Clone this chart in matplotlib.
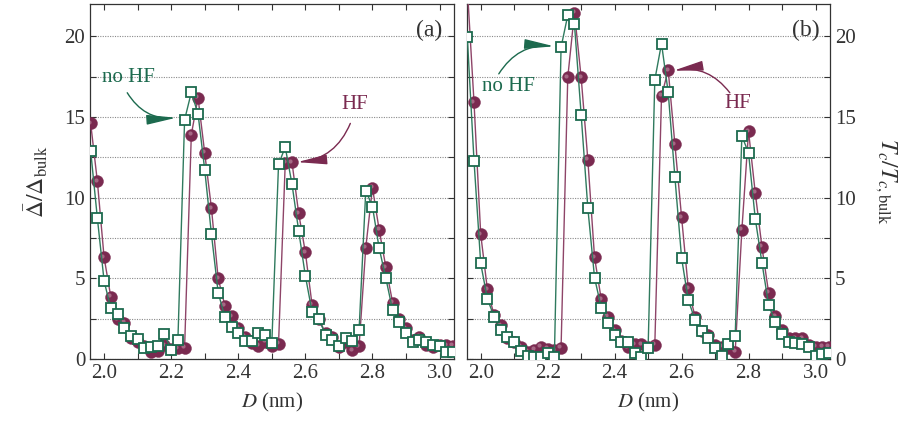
import matplotlib
matplotlib.use("Agg")
import matplotlib.pyplot as plt
from matplotlib.transforms import offset_copy

# ---------------- data ----------------
D = [1.96, 1.98, 2.00, 2.02, 2.04, 2.06, 2.08, 2.10, 2.12, 2.14, 2.16, 2.18, 2.20, 2.22, 2.24,
     2.26, 2.28, 2.30, 2.32, 2.34, 2.36, 2.38, 2.40, 2.42, 2.44, 2.46, 2.48, 2.50, 2.52,
     2.54, 2.56, 2.58, 2.60, 2.62, 2.64, 2.66, 2.68, 2.70, 2.72, 2.74, 2.76,
     2.78, 2.80, 2.82, 2.84, 2.86, 2.88, 2.90, 2.92, 2.94, 2.96, 2.98, 3.00, 3.02, 3.04]

gap_HF = [14.6, 11.0, 6.3, 3.85, 2.45, 2.25, 1.33, 1.06, 0.78, 0.44, 0.5, 0.85, 0.6, 0.65, 0.7,
          13.9, 16.2, 12.76, 9.34, 5.0, 3.3, 2.65, 1.95, 1.37, 1.0, 0.82, 1.05, 0.8, 0.95,
          12.15, 12.2, 9.03, 6.6, 3.35, 2.5, 1.6, 1.37, 0.75, 1.06, 0.54, 0.78,
          6.9, 10.6, 8.0, 5.68, 3.5, 2.45, 1.89, 1.2, 1.37, 0.85, 0.75, 0.85, 0.85, 0.8]

gap_noHF = [12.9, 8.72, 4.84, 3.13, 2.76, 1.95, 1.4, 1.25, 0.65, 0.75, 0.8, 1.53, 0.58, 1.16,
            14.83, 16.52, 15.2, 11.72, 7.73, 4.12, 2.61, 1.99, 1.64, 1.12, 1.12, 1.64, 1.51, 1.0,
            12.07, 13.13, 10.85, 7.95, 5.14, 2.92, 2.47, 1.51, 1.16, 0.81, 1.33, 1.12, 1.78,
            10.43, 9.44, 6.86, 4.99, 3.02, 2.3, 1.62, 1.03, 1.2, 1.06, 0.85, 0.83, 0.44, 0.44]

tc_HF = [23.0, 15.9, 7.73, 4.31, 2.71, 2.09, 1.3, 1.06, 0.75, 0.45, 0.58, 0.75, 0.62, 0.55, 0.68,
         17.45, 21.45, 17.45, 12.34, 6.3, 3.7, 2.61, 1.78, 1.12, 0.73, 0.9, 0.92, 0.72, 0.87,
         16.3, 17.9, 13.3, 8.78, 4.37, 2.63, 1.76, 1.47, 0.85, 0.75, 0.65, 0.43,
         8.0, 14.1, 10.3, 6.94, 4.1, 2.64, 1.78, 1.27, 1.27, 1.27, 0.85, 0.75, 0.75, 0.75]

tc_noHF = [19.94, 12.28, 5.92, 3.72, 2.63, 1.78, 1.39, 1.04, 0.52, 0.2, 0.12, 0.1, 0.38, 0.1,
           19.32, 21.3, 20.73, 15.14, 9.34, 5.03, 3.19, 2.24, 1.47, 1.06, 1.06, 0.37, 0.15, 0.68,
           17.3, 19.55, 16.52, 11.27, 6.25, 3.65, 2.43, 1.76, 1.33, 0.71, 0.17, 0.91, 1.41,
           13.83, 12.76, 8.7, 5.96, 3.34, 2.27, 1.55, 1.04, 1.0, 0.93, 0.73, 0.2, 0.28, 0.38]

xticks = [2.0, 2.2, 2.4, 2.6, 2.8, 3.0]
xticklabels = ["2.0", "2.2", "2.4", "2.6", "2.8", "3.0"]
yticks = [0, 5, 10, 15, 20]
yticklabels = ["0", "5", "10", "15", "20"]

# ---------------- style ----------------
plt.rcParams['font.family'] = ['Liberation Serif', 'DejaVu Serif']
plt.rcParams['mathtext.fontset'] = 'stix'

MAROON = '#7a2a50'
MAROON_L = '#8e4468'
HILITE = '#b07892'
GREEN = '#1c6a4e'
GREEN_L = '#2f7a5e'
TXT = '#333333'

fig = plt.figure(figsize=(9.10, 4.21), dpi=100)
axA = fig.add_axes([0.0989, 0.1473, 0.4000, 0.8432])
axB = fig.add_axes([0.5128, 0.1473, 0.3992, 0.8432])


def draw(ax, yhf, ynohf):
    ax.plot(D, yhf, '-', color=MAROON_L, lw=1.0, zorder=3)
    ax.plot(D, yhf, 'o', color=MAROON, ms=8.6, mec=MAROON, mew=0.3, zorder=4,
            linestyle='none')
    hl = offset_copy(ax.transData, fig=fig, x=-1.6, y=1.6, units='dots')
    ax.plot(D, yhf, 'o', color=HILITE, ms=3.0, mew=0, alpha=0.8, zorder=4.5,
            linestyle='none', transform=hl)
    ax.plot(D, ynohf, '-', color=GREEN_L, lw=1.0, zorder=5)
    ax.plot(D, ynohf, 's', mfc='white', mec=GREEN, ms=7.2, mew=1.3, zorder=6,
            linestyle='none')
    ax.set_xlim(1.958, 3.043)
    ax.set_ylim(0, 22)
    ax.set_xticks(xticks)
    ax.set_xticklabels(xticklabels)
    ax.set_xticks([2.1, 2.3, 2.5, 2.7, 2.9], minor=True)
    ax.set_yticks(yticks)
    ax.set_yticks([2.5, 7.5, 12.5, 17.5], minor=True)
    ax.tick_params(which='both', direction='in', top=True, right=True,
                   length=4.5, width=0.8, color=TXT, labelsize=15, labelcolor=TXT)
    ax.grid(True, which='both', axis='y', linestyle=(0, (1, 1.2)), color='#8a8a8a', lw=0.8,
            zorder=0)
    for s in ax.spines.values():
        s.set_color(TXT)
        s.set_linewidth(0.9)
    ax.set_xlabel(r'$D$ (nm)', fontsize=15, color=TXT, labelpad=6)


draw(axA, gap_HF, gap_noHF)
draw(axB, tc_HF, tc_noHF)

axA.set_yticklabels(yticklabels)
axA.set_ylabel(r'$\bar{\Delta}/\Delta_{\rm bulk}$', fontsize=17, color=TXT, labelpad=10)

axB.tick_params(axis='y', which='both', labelleft=False, labelright=True)
axB.set_yticklabels(yticklabels)
axB.yaxis.set_label_position('right')
axB.set_ylabel(r'$T_c/T_{c,\rm bulk}$', fontsize=17, color=TXT, rotation=270, labelpad=31)

# panel labels
axA.text(0.968, 0.925, '(a)', transform=axA.transAxes, ha='right', va='center',
         fontsize=17, color=TXT)
axB.text(0.972, 0.925, '(b)', transform=axB.transAxes, ha='right', va='center',
         fontsize=17, color=TXT)

# annotations
def label(ax, txt, pos, start, end, color, rad):
    ax.text(pos[0], pos[1], txt, color=color, fontsize=15, ha='center', va='center')
    ax.annotate('', xy=end, xytext=start,
                arrowprops=dict(arrowstyle='-|>,head_length=1.5,head_width=0.25',
                                connectionstyle='arc3,rad=%g' % rad,
                                color=color, lw=1.0, mutation_scale=12,
                                shrinkA=0, shrinkB=0))

label(axA, 'no HF', (2.072, 17.43), (2.069, 16.5), (2.215, 14.95), GREEN, 0.3)
label(axA, 'HF', (2.746, 15.75), (2.734, 14.6), (2.576, 12.2), MAROON, -0.3)
label(axB, 'no HF', (2.083, 16.88), (2.054, 17.67), (2.219, 19.38), GREEN, -0.3)
label(axB, 'HF', (2.768, 15.82), (2.744, 16.5), (2.576, 17.87), MAROON, 0.3)

fig.savefig('out.png', dpi=100)
